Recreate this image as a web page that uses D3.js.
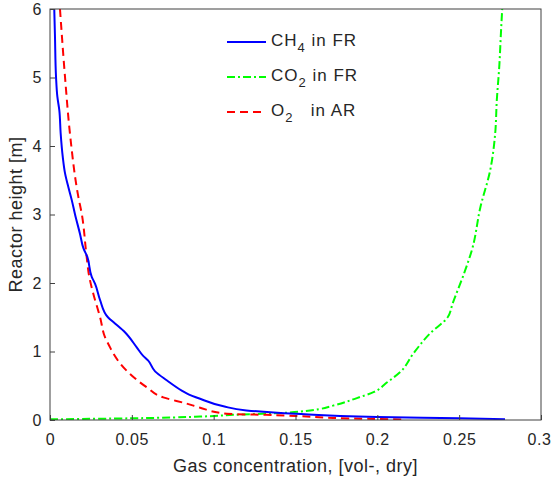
<!DOCTYPE html>
<html>
<head>
<meta charset="utf-8">
<script src="https://cdn.jsdelivr.net/npm/d3@7"></script>
<style>
  body { margin: 0; background: #fff; }
  text { font-family: "Liberation Sans", Arial, Helvetica, sans-serif; fill: #262626; }
</style>
</head>
<body>
<div id="chart"></div>
<script>
// gas concentration profiles along the reactor height

// CH4 in FR (blue solid)
const ch4Conc = [0.0026, 0.003, 0.0037, 0.0045, 0.0057, 0.0065, 0.0078, 0.0092, 0.0112, 0.0133, 0.0153, 0.0183, 0.0204,
  0.0228, 0.0255, 0.0275, 0.0306, 0.0354, 0.0397, 0.0458, 0.053, 0.0568, 0.0599, 0.0642, 0.0713, 0.0805, 0.0835,
  0.0917, 0.106, 0.12, 0.15, 0.2, 0.25, 0.278];
const ch4Height = [6.0, 5.64, 5.0, 4.72, 4.52, 4.19, 3.84, 3.6, 3.4, 3.21, 3.0, 2.72, 2.51,
  2.38, 2.09, 1.99, 1.75, 1.5, 1.41, 1.28, 1.06, 0.94, 0.87, 0.71, 0.58, 0.43, 0.39,
  0.31, 0.2, 0.14, 0.09, 0.045, 0.025, 0.012];

// CO2 in FR (green dash-dot)
const co2Conc = [0.0, 0.05, 0.0917, 0.112, 0.143, 0.159, 0.173, 0.1875, 0.198, 0.206, 0.214, 0.222, 0.232, 0.243,
  0.246, 0.253, 0.258, 0.263, 0.269, 0.272, 0.273, 0.2745, 0.2755, 0.2763];
const co2Height = [0.01, 0.025, 0.05, 0.075, 0.105, 0.14, 0.21, 0.32, 0.41, 0.55, 0.70, 0.97, 1.26, 1.50,
  1.70, 2.14, 2.50, 3.11, 3.65, 4.18, 4.67, 5.16, 5.64, 6.0];

// O2 in AR (red dashed)
const o2Conc = [0.0061, 0.0092, 0.0122, 0.0173, 0.0194, 0.0224, 0.024, 0.0265, 0.0306, 0.0336, 0.0367, 0.0387, 0.0468,
  0.059, 0.0692, 0.0835, 0.0917, 0.108, 0.132, 0.153, 0.173, 0.194, 0.216];
const o2Height = [6.0, 5.0, 4.18, 3.26, 3.01, 2.38, 2.09, 1.84, 1.5, 1.21, 1.06, 0.97, 0.72,
  0.48, 0.33, 0.24, 0.18, 0.09, 0.075, 0.055, 0.03, 0.017, 0.007];

const xTicks = [0, 0.05, 0.1, 0.15, 0.2, 0.25, 0.3];
const xTickLabels = ["0", "0.05", "0.1", "0.15", "0.2", "0.25", "0.3"];
const yTicks = [0, 1, 2, 3, 4, 5, 6];

const width = 552, height = 483;
const margin = { left: 50, right: 11, top: 9, bottom: 63 };

const svg = d3.select("#chart").append("svg")
  .attr("width", width)
  .attr("height", height);

const x = d3.scaleLinear().domain([0, 0.3]).range([margin.left, width - margin.right]);
const y = d3.scaleLinear().domain([0, 6]).range([height - margin.bottom, margin.top]);

// clip to plot box
svg.append("clipPath").attr("id", "clip")
  .append("rect")
  .attr("x", margin.left).attr("y", margin.top)
  .attr("width", x(0.3) - x(0)).attr("height", y(0) - y(6));

// series
const series = [
  { conc: co2Conc, h: co2Height, color: "#00ff00", dash: "8,3,2,3" },
  { conc: o2Conc, h: o2Height, color: "#ff0000", dash: "8,5" },
  { conc: ch4Conc, h: ch4Height, color: "#0000ff", dash: null }
];

const line = d3.line()
  .x(d => x(d[0]))
  .y(d => y(d[1]))
  .curve(d3.curveMonotoneY);

const plot = svg.append("g").attr("clip-path", "url(#clip)");
series.forEach(s => {
  plot.append("path")
    .datum(s.conc.map((c, i) => [c, s.h[i]]))
    .attr("d", line)
    .attr("fill", "none")
    .attr("stroke", s.color)
    .attr("stroke-width", 2)
    .attr("stroke-dasharray", s.dash);
});

// axes
const xAxis = d3.axisBottom(x).tickValues(xTicks).tickFormat((d, i) => xTickLabels[i]).tickSizeInner(-5).tickSizeOuter(0).tickPadding(14);
const yAxis = d3.axisLeft(y).tickValues(yTicks).tickFormat(d3.format("d")).tickSizeInner(-5).tickSizeOuter(0).tickPadding(8);

const gx = svg.append("g").attr("transform", "translate(0," + y(0) + ")").call(xAxis);
const gy = svg.append("g").attr("transform", "translate(" + x(0) + ",0)").call(yAxis);
[gx, gy].forEach(g => {
  g.selectAll("path").remove();
  g.selectAll("line").attr("stroke", "#404040");
  g.selectAll("text")
    .style("font-size", "16px")
    .style("letter-spacing", "0.6px")
    .attr("fill", "#262626");
});
// keep the last x label inside the page
gx.selectAll(".tick:last-of-type text").attr("dx", "-2");

// box
svg.append("rect")
  .attr("x", x(0)).attr("y", y(6))
  .attr("width", x(0.3) - x(0)).attr("height", y(0) - y(6))
  .attr("fill", "none")
  .attr("stroke", "#404040")
  .attr("stroke-width", 1);

// axis labels
svg.append("text")
  .attr("x", (x(0) + x(0.3)) / 2)
  .attr("y", 472)
  .attr("text-anchor", "middle")
  .style("font-size", "18px")
  .style("letter-spacing", "0.5px")
  .text("Gas concentration, [vol-, dry]");

svg.append("text")
  .attr("transform", "translate(22," + ((y(0) + y(6)) / 2) + ") rotate(-90)")
  .attr("text-anchor", "middle")
  .style("font-size", "18px")
  .style("letter-spacing", "0.5px")
  .text("Reactor height [m]");

// legend
const legendItems = [
  { main: "CH", sub: "4", rest: " in FR", color: "#0000ff", dash: null },
  { main: "CO", sub: "2", rest: " in FR", color: "#00ff00", dash: "8,3,2,3" },
  { main: "O", sub: "2", rest: "\u00a0\u00a0 in AR", color: "#ff0000", dash: "8,5" }
];
const legend = svg.append("g");
legendItems.forEach((d, i) => {
  const ly = 42 + i * 35;
  legend.append("line")
    .attr("x1", 227).attr("x2", 266)
    .attr("y1", ly).attr("y2", ly)
    .attr("stroke", d.color)
    .attr("stroke-width", 2)
    .attr("stroke-dasharray", d.dash);
  const t = legend.append("text")
    .attr("x", 271).attr("y", ly + 4)
    .style("font-size", "17px")
    .style("letter-spacing", "1px");
  t.append("tspan").text(d.main);
  t.append("tspan").attr("dy", 6).style("font-size", "13px").text(d.sub);
  t.append("tspan").attr("dy", -6).text(d.rest);
});
</script>
</body>
</html>
